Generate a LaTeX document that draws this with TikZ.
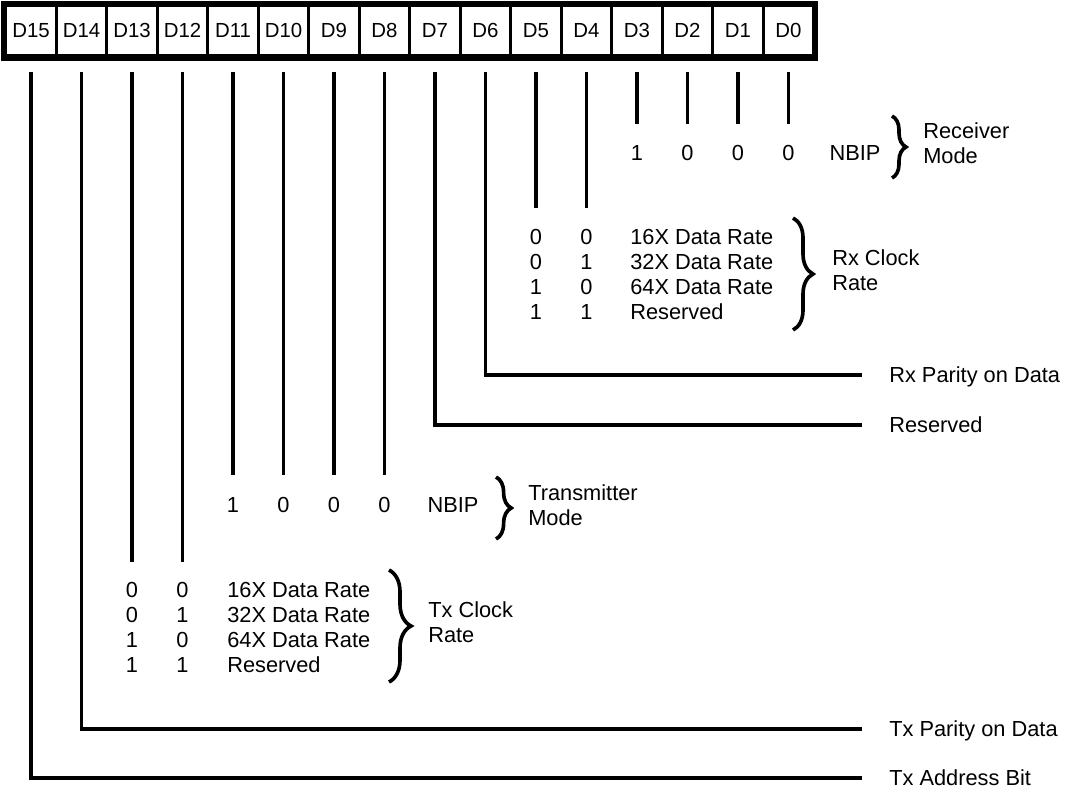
\documentclass[tikz,border=0pt]{standalone}
\usepackage{fontspec}
\setmainfont{Liberation Sans}
\usepackage{xcolor}
\usepackage{tikz}
\usetikzlibrary{positioning, calc, decorations.pathreplacing}

\begin{document}
\begin{tikzpicture}[
    x=0.025cm, y=-0.025cm,
    bitcell/.style={rectangle, draw, line width=2.4pt, minimum width=1.2625cm, minimum height=1.2625cm, inner sep=0pt, font=\fontsize{14.5}{17}\selectfont},
    bitline/.style={line width=2.4pt},
    code/.style={inner sep=0pt, text height=11.1pt, text depth=0pt, font=\fontsize{15.5}{17.8}\selectfont},
    fieldname/.style={inner sep=0pt, align=left, anchor=west, font=\fontsize{15.5}{17.8}\selectfont},
    fieldbrace/.style={decorate, decoration={brace, amplitude=#1}, line width=2.6pt}
  ]
    \useasboundingbox (0,0) rectangle (1069,791);
    \foreach \i in {0,...,15}
      \node[bitcell] (d\i) at ({31+50.5*(15-\i)}, 30.75) {D\i};
    \draw[line width=4pt] (d15.north west) rectangle (d0.south east);

    \coordinate (rxmode) at (0,124);
    \coordinate (rxclk) at (0,208);
    \coordinate (txmode) at (0,475);
    \coordinate (txclk) at (0,562);

    \node[code, anchor=west] (rxpar) at (889,375) {Rx Parity on Data};
    \node[code, anchor=west] (rxres) at (889,425) {Reserved};
    \node[code, anchor=west] (txpar) at (889,729) {Tx Parity on Data};
    \node[code, anchor=west] (txadr) at (889,778) {Tx Address Bit};

    \foreach \i in {0,...,3}
      \draw[bitline] ([yshift=-0.35cm]d\i.south) -- (d\i.south |- rxmode);
    \foreach \i in {4,5}
      \draw[bitline] ([yshift=-0.35cm]d\i.south) -- (d\i.south |- rxclk);
    \foreach \i in {8,...,11}
      \draw[bitline] ([yshift=-0.35cm]d\i.south) -- (d\i.south |- txmode);
    \foreach \i in {12,13}
      \draw[bitline] ([yshift=-0.35cm]d\i.south) -- (d\i.south |- txclk);
    \draw[bitline] ([yshift=-0.35cm]d6.south) |- ([xshift=-0.68cm]rxpar.west);
    \draw[bitline] ([yshift=-0.35cm]d7.south) |- ([xshift=-0.68cm]rxres.west);
    \draw[bitline] ([yshift=-0.35cm]d14.south) |- ([xshift=-0.68cm]txpar.west);
    \draw[bitline] ([yshift=-0.35cm]d15.south) |- ([xshift=-0.68cm]txadr.west);

    \foreach \i/\v in {3/1,2/0,1/0,0/0}
      \node[code] (rxm\i) at (d\i.south |- 0,153) {\v};
    \node[code] (rxnbip) at (855,153) {NBIP};
    \draw[fieldbrace=0.35cm] (892,116) -- (892,178);
    \node[fieldname] (rxmlabel) at (923,143) {Receiver\\Mode};

    \foreach \y/\a/\b/\t [count=\k] in {237/0/0/16X Data Rate,262/0/1/32X Data Rate,287/1/0/64X Data Rate,312/1/1/Reserved} {
      \node[code] (rxa\k) at (d5.south |- 0,\y) {\a};
      \node[code] (rxb\k) at (d4.south |- 0,\y) {\b};
      \node[code, anchor=west] (rxt\k) at (630,\y) {\t};
    }
    \draw[fieldbrace=0.5cm] (793,218) -- (793,330);
    \node[fieldname] (rxclabel) at (832,270) {Rx Clock\\Rate};

    \foreach \i/\v in {11/1,10/0,9/0,8/0}
      \node[code] (txm\i) at (d\i.south |- 0,505) {\v};
    \node[code] (txnbip) at (453,505) {NBIP};
    \draw[fieldbrace=0.38cm] (496,477) -- (496,539);
    \node[fieldname] (txmlabel) at (528,505) {Transmitter\\Mode};

    \foreach \y/\a/\b/\t [count=\k] in {590/0/0/16X Data Rate,615/0/1/32X Data Rate,640/1/0/64X Data Rate,665/1/1/Reserved} {
      \node[code] (txa\k) at (d13.south |- 0,\y) {\a};
      \node[code] (txb\k) at (d12.south |- 0,\y) {\b};
      \node[code, anchor=west] (txt\k) at (227,\y) {\t};
    }
    \draw[fieldbrace=0.55cm] (389,570) -- (389,682);
    \node[fieldname] (txclabel) at (428,622) {Tx Clock\\Rate};
  \end{tikzpicture}
\end{document}
